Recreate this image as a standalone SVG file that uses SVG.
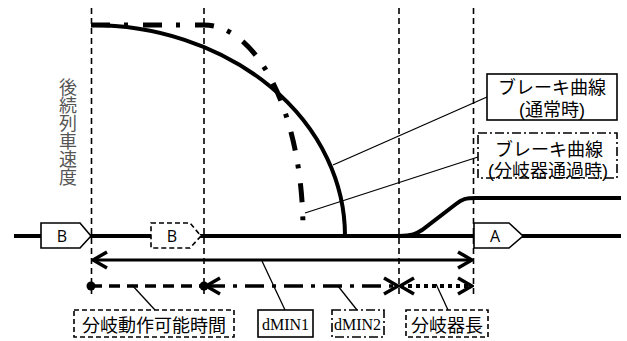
<svg xmlns="http://www.w3.org/2000/svg" width="627" height="341" viewBox="0 0 627 341">
<defs>
<style>
.jp{font-family:"Noto Sans CJK JP","Noto Sans",sans-serif;fill:#000}
.jp2{font-family:"Liberation Sans","Noto Sans CJK JP",sans-serif;fill:#000}
.ser{font-family:"Liberation Serif",serif;fill:#000}
.vd{stroke:#000;stroke-width:1.6;stroke-dasharray:6 4;fill:none}
.lead{stroke:#000;stroke-width:1.3;fill:none}
.sig{fill:#fff;stroke:#000;stroke-width:1.6}
.box{fill:#fff;stroke:#000;stroke-width:1.6}
.dash{stroke-dasharray:5 3}
.dd{stroke-dasharray:9 3 2 3}
.sg{font-family:"Open Sans","Liberation Sans",sans-serif;font-size:16px;fill:#000}
</style>
<marker id="ah" viewBox="-16 -10 18 20" refX="0" refY="0" markerWidth="18" markerHeight="20" markerUnits="userSpaceOnUse" orient="auto-start-reverse">
<path d="M-14,-8 L0,0 L-14,8" fill="none" stroke="#000" stroke-width="3.5"/>
</marker>
</defs>

<g id="guides">
<line class="vd" x1="91.5" y1="8" x2="91.5" y2="298"/>
<line class="vd" x1="204" y1="8" x2="204" y2="298"/>
<line class="vd" x1="399" y1="8" x2="399" y2="298"/>
<line class="vd" x1="473.5" y1="8" x2="473.5" y2="298"/>
</g>

<g id="track">
<line x1="14" y1="236" x2="621" y2="236" stroke="#000" stroke-width="4"/>
<path d="M399,236 C412,236 416,234 422,230 L456,204 C462,199 466,198 476,198 L621,198" fill="none" stroke="#000" stroke-width="4"/>
</g>

<g id="curves">
<path id="brake-normal" d="M91,25 A254,211 0 0 1 345,236" fill="none" stroke="#000" stroke-width="4"/>
<path id="brake-branch" d="M91,25 H204 A99,205 0 0 1 303,230" fill="none" stroke="#000" stroke-width="5" stroke-dasharray="19 14 4 15"/>
</g>

<g id="signal-B1">
<polygon class="sig" points="41,223 80,223 91,236 80,248 41,248"/>
<text class="sg" x="62" y="242" text-anchor="middle">B</text>
</g>
<g id="signal-B2">
<polygon class="sig dash" points="151,223 190,223 201,236 190,248 151,248"/>
<text class="sg" x="172" y="242" text-anchor="middle">B</text>
</g>
<g id="signal-A">
<polygon class="sig" points="474,223 509,223 523,236 509,248 474,248"/>
<text class="sg" x="495" y="242" text-anchor="middle">A</text>
</g>

<g id="connectors">
<line x1="93" y1="260" x2="472" y2="260" stroke="#000" stroke-width="3" marker-start="url(#ah)" marker-end="url(#ah)"/>
<line x1="91" y1="286" x2="204" y2="286" stroke="#000" stroke-width="3.5" stroke-dasharray="11 7"/>
<line x1="206" y1="286" x2="398" y2="286" stroke="#000" stroke-width="3.5" stroke-dasharray="19 8 4 8" marker-start="url(#ah)" marker-end="url(#ah)"/>
<line x1="400" y1="286" x2="472" y2="286" stroke="#000" stroke-width="4" stroke-dasharray="4 4" marker-start="url(#ah)" marker-end="url(#ah)"/>
<circle cx="91" cy="286" r="4.5" fill="#000"/>
<circle cx="204" cy="286" r="4.5" fill="#000"/>
<line class="lead" x1="333" y1="165" x2="487" y2="97"/>
<line class="lead" x1="305" y1="213" x2="478" y2="157"/>
<line class="lead" x1="132" y1="285" x2="155" y2="310"/>
<line class="lead" x1="262" y1="261" x2="285" y2="310"/>
<line class="lead" x1="338" y1="286" x2="357" y2="310"/>
<line class="lead" x1="436" y1="284" x2="448" y2="310"/>
</g>

<g id="label-speed">
<text class="jp" font-size="18" x="68" y="78" style="fill:#555;writing-mode:vertical-rl">後続列車速度</text>
</g>

<g id="label-brake-normal">
<rect class="box" x="487" y="74" width="130" height="46" stroke-width="2"/>
<text class="jp2" font-size="18" text-anchor="middle"><tspan x="552" y="94">ブレーキ曲線</tspan><tspan x="552" y="116">(通常時)</tspan></text>
</g>

<g id="label-brake-branch">
<rect class="box dd" x="478" y="133" width="139" height="45"/>
<text class="jp2" font-size="18" text-anchor="middle"><tspan x="549" y="156">ブレーキ曲線</tspan><tspan x="548" y="177">(分岐器通過時)</tspan></text>
</g>

<g id="label-switch-time">
<rect class="box dash" x="74" y="310" width="160" height="27"/>
<text class="jp" font-size="18" x="154" y="332" text-anchor="middle">分岐動作可能時間</text>
</g>
<g id="label-dmin1">
<rect class="box" x="258" y="310" width="55" height="27"/>
<text class="ser" font-size="16" x="285.5" y="330" text-anchor="middle">dMIN1</text>
</g>
<g id="label-dmin2">
<rect class="box dd" x="332" y="310" width="52" height="27"/>
<text class="ser" font-size="16" x="357.5" y="330" text-anchor="middle">dMIN2</text>
</g>
<g id="label-switch-length">
<rect class="box dash" x="406" y="310" width="82" height="27"/>
<text class="jp" font-size="18" x="447" y="332" text-anchor="middle">分岐器長</text>
</g>
</svg>
